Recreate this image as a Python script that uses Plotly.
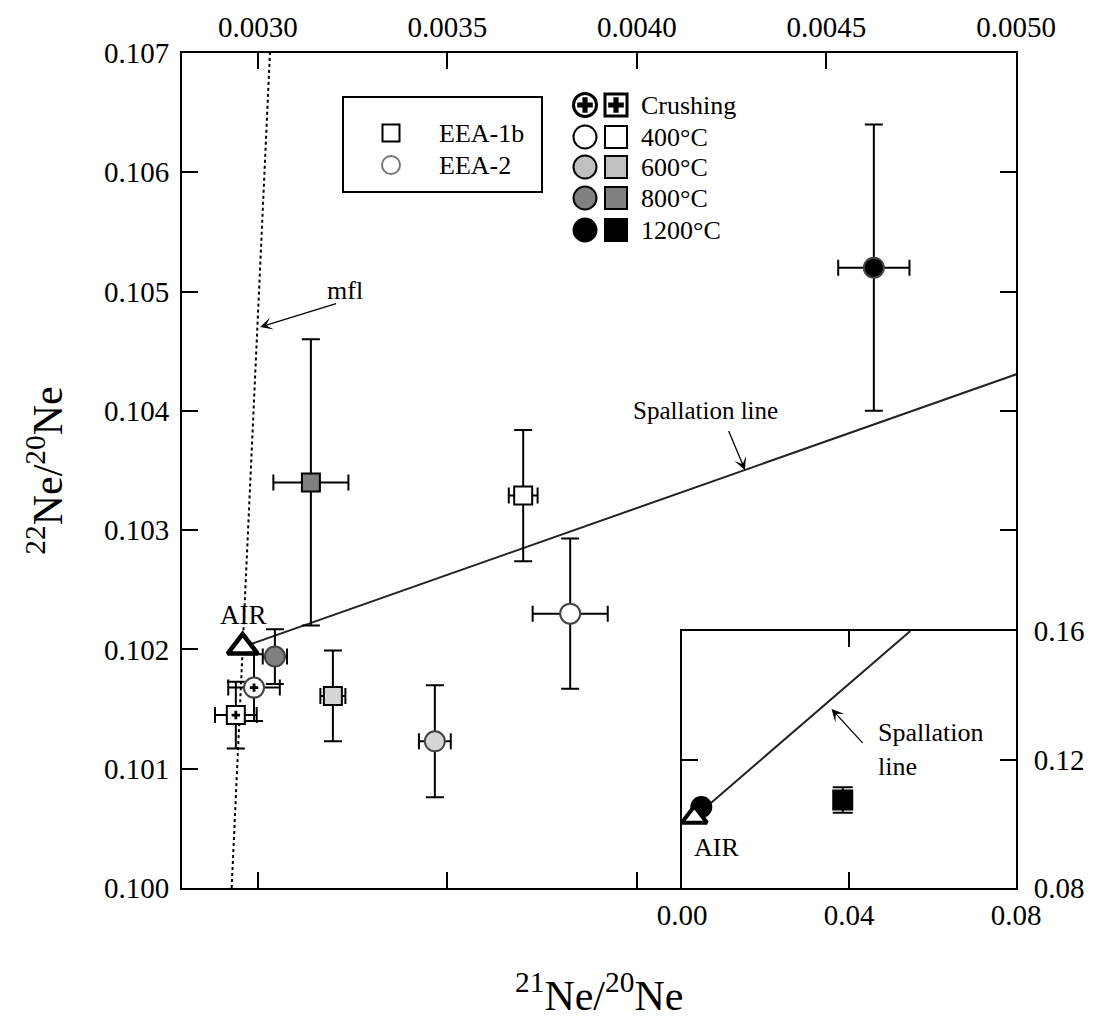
import plotly.graph_objects as go

# ---------------- data ----------------
steps = ['Crushing', '400°C', '600°C', '800°C', '1200°C']
step_fill_data = ['white', 'white', '#d6d6d6', '#808080', 'black']
step_fill_legend = ['white', 'white', '#c0c0c0', '#808080', 'black']

# EEA-1b (squares)
eea1b_x = [0.002942, 0.003700, 0.003198, 0.003140, 0.0385]
eea1b_xerr = [0.000055, 0.000038, 0.000033, 0.000099, 0.0]
eea1b_y = [0.10145, 0.10329, 0.10161, 0.10340, 0.1074]
eea1b_yerr = [0.00028, 0.00055, 0.00038, 0.0012, 0.004]

# EEA-2 (circles)
eea2_x = [0.002990, 0.003824, 0.003467, 0.003045, 0.004625]
eea2_xerr = [0.000068, 0.000099, 0.000042, 0.000032, 0.000094]
eea2_y = [0.10168, 0.10230, 0.10123, 0.10194, 0.10520]
eea2_yerr = [0.00028, 0.00063, 0.00047, 0.00023, 0.0012]

air_x = [0.00296]
air_y = [0.10202]

spall_x = [0.00296, 0.0547]
spall_y = [0.10202, 0.1600]

mfl_x = [0.002931, 0.003032]
mfl_y = [0.100, 0.107]

main_xticks = [0.0030, 0.0035, 0.0040, 0.0045, 0.0050]
main_xticklabels = ['0.0030', '0.0035', '0.0040', '0.0045', '0.0050']
main_yticks = [0.100, 0.101, 0.102, 0.103, 0.104, 0.105, 0.106, 0.107]
main_yticklabels = ['0.100', '0.101', '0.102', '0.103', '0.104', '0.105', '0.106', '0.107']
inset_xticks = [0.00, 0.04, 0.08]
inset_xticklabels = ['0.00', '0.04', '0.08']
inset_yticks = [0.08, 0.12, 0.16]
inset_yticklabels = ['0.08', '0.12', '0.16']

FONT = 'Liberation Serif'
OFF = 8  # default page body margin
W, H = 1094 - OFF, 1026 - OFF
# plot area in page pixels
L, R, T, B = 182, 1016, 53, 888

fig = go.Figure()

def sample_traces(xs, xe, ys, ye, symbol, size, line_col, xa, ya, idx, capy=9):
    sx = [xs[i] for i in idx]
    sy = [ys[i] for i in idx]
    fig.add_trace(go.Scatter(
        x=sx, y=sy, xaxis=xa, yaxis=ya, mode='markers',
        marker=dict(symbol=symbol, size=size,
                    color=[step_fill_data[i] for i in idx],
                    line=dict(color=line_col, width=2)),
        error_x=dict(type='data', array=[xe[i] for i in idx], color='black', thickness=2, width=8),
        error_y=dict(type='data', array=[ye[i] for i in idx], color='black', thickness=2, width=capy),
        showlegend=False, hoverinfo='skip'))

# lines in main plot
fig.add_trace(go.Scatter(x=mfl_x, y=mfl_y, mode='lines', line=dict(color='black', width=2, dash='dot'),
                         showlegend=False, hoverinfo='skip'))
fig.add_trace(go.Scatter(x=spall_x, y=spall_y, mode='lines', line=dict(color='#222', width=2),
                         showlegend=False, hoverinfo='skip'))

sample_traces(eea1b_x, eea1b_xerr, eea1b_y, eea1b_yerr, 'square', 18, 'black', 'x', 'y', [0, 1, 2, 3])
sample_traces(eea2_x, eea2_xerr, eea2_y, eea2_yerr, 'circle', 20, '#444', 'x', 'y', [0, 1, 2, 3, 4])
# crosses on crushing points
fig.add_trace(go.Scatter(x=[eea1b_x[0], eea2_x[0]], y=[eea1b_y[0], eea2_y[0]], mode='markers',
                         marker=dict(symbol='cross', size=7, color='black', line=dict(width=0)),
                         showlegend=False, hoverinfo='skip'))
fig.add_trace(go.Scatter(x=air_x, y=air_y, mode='markers',
                         marker=dict(symbol='triangle-up', size=26, color='white',
                                     line=dict(color='black', width=4.5)),
                         showlegend=False, hoverinfo='skip'))

# inset
fig.add_trace(go.Scatter(x=spall_x, y=spall_y, xaxis='x3', yaxis='y3', mode='lines',
                         line=dict(color='#222', width=2), showlegend=False, hoverinfo='skip'))
sample_traces(eea2_x, eea2_xerr, eea2_y, eea2_yerr, 'circle', 20, 'black', 'x3', 'y3', [4])
sample_traces(eea1b_x, eea1b_xerr, eea1b_y, eea1b_yerr, 'square', 19, 'black', 'x3', 'y3', [4], capy=10)
fig.add_trace(go.Scatter(x=air_x, y=air_y, xaxis='x3', yaxis='y3', mode='markers',
                         marker=dict(symbol='triangle-up', size=22, color='white',
                                     line=dict(color='black', width=4)),
                         showlegend=False, hoverinfo='skip'))

# dummy for overlay axes
fig.add_trace(go.Scatter(x=[None], y=[None], xaxis='x2', yaxis='y2', showlegend=False, hoverinfo='skip'))

# legend swatches on a pixel helper axis (x4/y4)
leg_rows_y = [105, 137, 167, 198, 230]
for i, st in enumerate(steps):
    fig.add_trace(go.Scatter(x=[585], y=[leg_rows_y[i]], xaxis='x4', yaxis='y4', mode='markers',
                             marker=dict(symbol='circle', size=23, color=step_fill_legend[i],
                                         line=dict(color='black', width=3 if i == 0 else 2)),
                             showlegend=False, hoverinfo='skip'))
    fig.add_trace(go.Scatter(x=[616], y=[leg_rows_y[i]], xaxis='x4', yaxis='y4', mode='markers',
                             marker=dict(symbol='square', size=22, color=step_fill_legend[i],
                                         line=dict(color='black', width=3 if i == 0 else 2)),
                             showlegend=False, hoverinfo='skip'))
fig.add_trace(go.Scatter(x=[585, 616], y=[leg_rows_y[0]] * 2, xaxis='x4', yaxis='y4', mode='markers',
                         marker=dict(symbol='cross', size=13, color='black', line=dict(width=0)),
                         showlegend=False, hoverinfo='skip'))
fig.add_trace(go.Scatter(x=[391], y=[133], xaxis='x4', yaxis='y4', mode='markers',
                         marker=dict(symbol='square', size=17, color='white', line=dict(color='black', width=2)),
                         showlegend=False, hoverinfo='skip'))
fig.add_trace(go.Scatter(x=[391], y=[165], xaxis='x4', yaxis='y4', mode='markers',
                         marker=dict(symbol='circle', size=18, color='white', line=dict(color='#777', width=2)),
                         showlegend=False, hoverinfo='skip'))

annots = []
def txt(x, y, s, xref='x', yref='y', size=26, xanchor='center', yanchor='middle', align='center'):
    annots.append(dict(x=x, y=y, xref=xref, yref=yref, text=s, showarrow=False,
                       font=dict(family=FONT, size=size, color='black'),
                       xanchor=xanchor, yanchor=yanchor, align=align))

def arrow(x, y, ax, ay, xref='x', yref='y'):
    annots.append(dict(x=x, y=y, xref=xref, yref=yref, ax=ax, ay=ay, text=' ', showarrow=True,
                       arrowhead=3, arrowsize=1.6, arrowwidth=1.3, arrowcolor='black',
                       font=dict(family=FONT, size=4)))

for i, st in enumerate(steps):
    txt(639, leg_rows_y[i], st, 'x4', 'y4', size=26, xanchor='left')
txt(437, 133, 'EEA-1b', 'x4', 'y4', size=26, xanchor='left')
txt(437, 165, 'EEA-2', 'x4', 'y4', size=26, xanchor='left')

txt(0.002961, 0.102288, 'AIR', size=27)
txt(0.00323, 0.10501, 'mfl', size=26)
arrow(0.0030058, 0.104702, 78, -24)
txt(0.004182, 0.104, 'Spallation line', size=25)
arrow(0.0042851, 0.103504, -18, -43)
txt(0.04657, 0.12296, 'Spallation<br>line', 'x3', 'y3', size=26, xanchor='left', align='left')
arrow(0.03582, 0.13572, 33, 36, 'x3', 'y3')
txt(0.00836, 0.09276, 'AIR', 'x3', 'y3', size=26)

# axis titles
annots.append(dict(x=0.5, y=-0.125, xref='paper', yref='paper', showarrow=False,
                   text='<sup>21</sup>Ne/<sup>20</sup>Ne', font=dict(family=FONT, size=42, color='black'),
                   xanchor='center', yanchor='middle'))
annots.append(dict(x=-0.164, y=0.5, xref='paper', yref='paper', showarrow=False, textangle=-90,
                   text='<sup>22</sup>Ne/<sup>20</sup>Ne', font=dict(family=FONT, size=42, color='black'),
                   xanchor='center', yanchor='middle'))

# legend box
shapes = [dict(type='rect', xref='x4', yref='y4', x0=343, x1=542, y0=97, y1=192,
               line=dict(color='black', width=2), fillcolor='rgba(0,0,0,0)')]

tickfont = dict(family=FONT, size=29, color='black')
inset_x0 = (682 - L) / (R - L)
inset_y1 = (B - 631) / (B - T)

common = dict(showgrid=False, zeroline=False, ticks='inside', ticklen=16, tickwidth=2,
              tickcolor='black', linecolor='black', linewidth=2, showline=True, automargin=False)

fig.update_layout(
    width=W, height=H,
    margin=dict(l=L - OFF, r=1094 - R, t=T - OFF, b=1026 - B, pad=0, autoexpand=False),
    paper_bgcolor='white', plot_bgcolor='white',
    showlegend=False,
    xaxis=dict(range=[0.0028, 0.0050], tickvals=[0.0030, 0.0035, 0.0040], showticklabels=False,
               side='bottom', **common),
    xaxis2=dict(range=[0.0028, 0.0050], overlaying='x', side='top', tickvals=main_xticks,
                ticktext=main_xticklabels, tickfont=tickfont, ticklabelstandoff=2, **common),
    yaxis=dict(range=[0.100, 0.107], tickvals=main_yticks, ticktext=main_yticklabels,
               tickfont=tickfont, ticklabelstandoff=5, side='left', **common),
    yaxis2=dict(range=[0.100, 0.107], overlaying='y', side='right',
                tickvals=[0.103, 0.104, 0.105, 0.106], showticklabels=False, **common),
    xaxis3=dict(domain=[inset_x0, 1.0], anchor='y3', range=[0, 0.08], tickvals=inset_xticks,
                ticktext=inset_xticklabels, tickfont=tickfont, mirror='ticks', ticklabelstandoff=0, **common),
    yaxis3=dict(domain=[0, inset_y1], anchor='x3', range=[0.08, 0.16], side='right',
                tickvals=inset_yticks, ticktext=inset_yticklabels, tickfont=tickfont,
                mirror='ticks', ticklabelstandoff=10, **common),
    xaxis4=dict(range=[L, R], overlaying='x', visible=False),
    yaxis4=dict(range=[B, T], overlaying='y', visible=False),
    annotations=annots, shapes=shapes,
)

fig.write_html('out.html')
